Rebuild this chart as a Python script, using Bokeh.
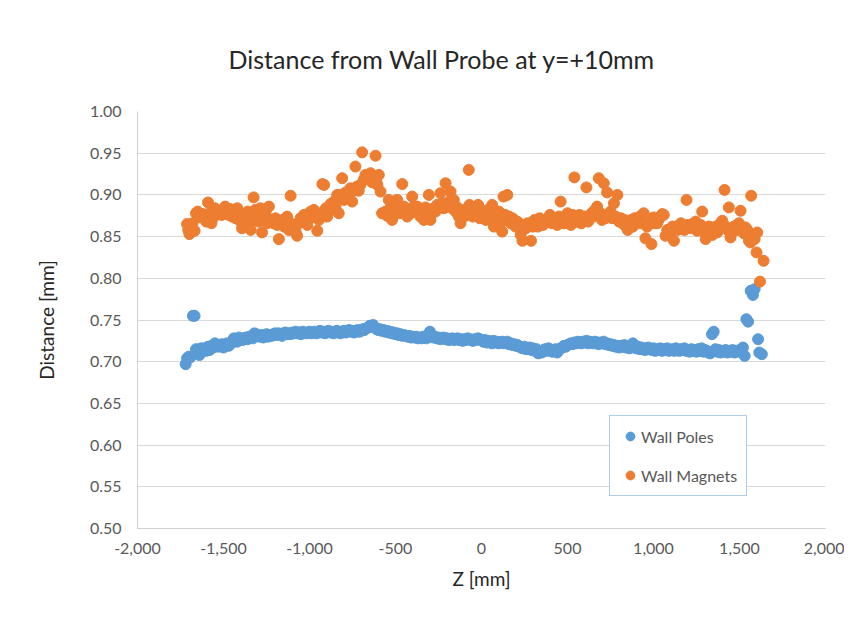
from bokeh.plotting import figure
from bokeh.models import ColumnDataSource, Range1d, FixedTicker, NumeralTickFormatter, Legend, LegendItem
from bokeh.embed import file_html
from bokeh.resources import INLINE

title_text = "Distance from Wall Probe at y=+10mm"
x_label = "Z [mm]"
y_label = "Distance [mm]"
series_names = ["Wall Poles", "Wall Magnets"]
x_ticks = [-2000, -1500, -1000, -500, 0, 500, 1000, 1500, 2000]
y_ticks = [0.50, 0.55, 0.60, 0.65, 0.70, 0.75, 0.80, 0.85, 0.90, 0.95, 1.00]

poles_z = [
    -1720, -1712, -1703, -1694, -1678, -1668, -1660, -1650, -1640, -1630, -1620, -1610, -1600, -1590, -1580,
    -1570, -1560, -1550, -1540, -1530, -1520, -1510, -1500, -1490, -1480, -1470, -1460, -1450, -1440, -1430,
    -1420, -1410, -1400, -1390, -1380, -1370, -1360, -1350, -1340, -1330, -1320, -1310, -1300, -1290, -1280,
    -1270, -1260, -1250, -1240, -1230, -1220, -1210, -1200, -1190, -1180, -1170, -1160, -1150, -1140, -1130,
    -1120, -1110, -1100, -1090, -1080, -1070, -1060, -1050, -1040, -1030, -1020, -1010, -1000, -990, -980,
    -970, -960, -950, -940, -930, -920, -910, -900, -890, -880, -870, -860, -850, -840, -830,
    -820, -810, -800, -790, -780, -770, -760, -750, -740, -730, -720, -710, -700, -690, -680,
    -670, -660, -650, -640, -630, -620, -610, -600, -590, -580, -570, -560, -550, -540, -530,
    -520, -510, -500, -490, -480, -470, -460, -450, -440, -430, -420, -410, -400, -390, -380,
    -370, -360, -350, -340, -330, -320, -310, -300, -290, -280, -270, -260, -250, -240, -230,
    -220, -210, -200, -190, -180, -170, -160, -150, -140, -130, -120, -110, -100, -90, -80,
    -70, -60, -50, -40, -30, -20, -10, 0, 10, 20, 30, 40, 50, 60, 70,
    80, 90, 100, 110, 120, 130, 140, 150, 160, 170, 180, 190, 200, 210, 220,
    230, 240, 250, 260, 270, 280, 290, 300, 310, 320, 330, 340, 350, 360, 370,
    380, 390, 400, 410, 420, 430, 440, 450, 460, 470, 480, 490, 500, 510, 520,
    530, 540, 550, 560, 570, 580, 590, 600, 610, 620, 630, 640, 650, 660, 670,
    680, 690, 700, 710, 720, 730, 740, 750, 760, 770, 780, 790, 800, 810, 820,
    830, 840, 850, 860, 870, 880, 890, 900, 910, 920, 930, 940, 950, 960, 970,
    980, 990, 1000, 1010, 1020, 1030, 1040, 1050, 1060, 1070, 1080, 1090, 1100, 1110, 1120,
    1130, 1140, 1150, 1160, 1170, 1180, 1190, 1200, 1210, 1220, 1230, 1240, 1250, 1260, 1270,
    1280, 1290, 1300, 1310, 1320, 1330, 1340, 1350, 1360, 1370, 1380, 1390, 1400, 1410, 1420,
    1430, 1440, 1450, 1460, 1470, 1480, 1490, 1500, 1510, 1520, 1530, 1540, 1550, 1565, 1578,
    1588, 1608, 1615, 1630,
]
poles_d = [
    0.697, 0.704, 0.706, 0.705, 0.755, 0.755, 0.715, 0.712, 0.708, 0.716, 0.714, 0.716, 0.713, 0.718, 0.714,
    0.719, 0.717, 0.722, 0.720, 0.718, 0.719, 0.721, 0.717, 0.720, 0.722, 0.719, 0.721, 0.723, 0.728, 0.726,
    0.724, 0.729, 0.727, 0.726, 0.728, 0.729, 0.727, 0.730, 0.729, 0.728, 0.734, 0.733, 0.731, 0.730, 0.732,
    0.729, 0.731, 0.733, 0.730, 0.732, 0.731, 0.733, 0.734, 0.732, 0.734, 0.733, 0.731, 0.734, 0.735, 0.733,
    0.734, 0.733, 0.735, 0.734, 0.736, 0.734, 0.735, 0.733, 0.736, 0.735, 0.734, 0.735, 0.736, 0.734, 0.735,
    0.736, 0.734, 0.735, 0.737, 0.735, 0.736, 0.734, 0.736, 0.737, 0.735, 0.736, 0.734, 0.736, 0.737, 0.735,
    0.734, 0.736, 0.737, 0.735, 0.736, 0.738, 0.736, 0.737, 0.735, 0.737, 0.738, 0.736, 0.737, 0.739, 0.738,
    0.740, 0.741, 0.743, 0.742, 0.744, 0.741, 0.739, 0.738, 0.739, 0.737, 0.738, 0.736, 0.737, 0.735, 0.736,
    0.734, 0.735, 0.733, 0.734, 0.732, 0.733, 0.731, 0.732, 0.731, 0.730, 0.731, 0.729, 0.730, 0.729, 0.730,
    0.728, 0.729, 0.728, 0.730, 0.729, 0.728, 0.730, 0.736, 0.731, 0.729, 0.730, 0.728, 0.729, 0.727, 0.728,
    0.729, 0.727, 0.728, 0.726, 0.727, 0.728, 0.726, 0.727, 0.728, 0.726, 0.727, 0.725, 0.727, 0.726, 0.728,
    0.727, 0.726, 0.725, 0.727, 0.726, 0.728, 0.727, 0.726, 0.724, 0.726, 0.723, 0.725, 0.724, 0.722, 0.725,
    0.723, 0.724, 0.722, 0.723, 0.724, 0.722, 0.723, 0.724, 0.721, 0.722, 0.720, 0.721, 0.719, 0.720, 0.718,
    0.717, 0.716, 0.718, 0.715, 0.716, 0.717, 0.714, 0.716, 0.713, 0.715, 0.710, 0.712, 0.711, 0.714, 0.715,
    0.713, 0.716, 0.714, 0.712, 0.713, 0.715, 0.711, 0.714, 0.716, 0.717, 0.719, 0.718, 0.720, 0.721, 0.722,
    0.721, 0.723, 0.722, 0.724, 0.723, 0.722, 0.724, 0.723, 0.725, 0.722, 0.724, 0.723, 0.722, 0.724, 0.723,
    0.721, 0.723, 0.722, 0.724, 0.721, 0.722, 0.720, 0.721, 0.719, 0.720, 0.718, 0.719, 0.717, 0.719, 0.718,
    0.720, 0.717, 0.718, 0.716, 0.718, 0.722, 0.717, 0.716, 0.718, 0.715, 0.717, 0.716, 0.714, 0.716, 0.717,
    0.715, 0.714, 0.716, 0.713, 0.715, 0.714, 0.716, 0.713, 0.715, 0.714, 0.716, 0.713, 0.714, 0.715, 0.713,
    0.716, 0.714, 0.713, 0.715, 0.714, 0.716, 0.713, 0.714, 0.712, 0.715, 0.713, 0.714, 0.712, 0.715, 0.713,
    0.716, 0.712, 0.714, 0.713, 0.711, 0.710, 0.733, 0.736, 0.715, 0.712, 0.714, 0.711, 0.713, 0.712, 0.714,
    0.711, 0.713, 0.712, 0.714, 0.711, 0.713, 0.712, 0.714, 0.712, 0.717, 0.707, 0.751, 0.748, 0.785, 0.780,
    0.787, 0.727, 0.711, 0.709,
]

magnets_z = [
    -1712, -1705, -1698, -1690, -1680, -1668, -1660, -1650, -1640, -1630, -1620, -1612, -1600, -1590, -1582,
    -1570, -1562, -1550, -1540, -1530, -1520, -1510, -1500, -1490, -1480, -1470, -1460, -1450, -1440, -1430,
    -1420, -1410, -1400, -1392, -1380, -1370, -1360, -1350, -1342, -1334, -1325, -1316, -1305, -1295, -1285,
    -1276, -1265, -1255, -1245, -1236, -1227, -1218, -1208, -1198, -1188, -1178, -1168, -1158, -1148, -1138,
    -1130, -1120, -1110, -1100, -1090, -1080, -1072, -1062, -1052, -1042, -1032, -1022, -1013, -1003, -994,
    -984, -975, -965, -955, -945, -935, -925, -915, -905, -897, -888, -878, -868, -858, -849,
    -839, -830, -820, -810, -800, -790, -780, -771, -762, -752, -742, -733, -724, -714, -704,
    -694, -685, -675, -665, -655, -645, -635, -625, -616, -612, -605, -597, -587, -578, -568,
    -558, -549, -539, -530, -520, -510, -500, -490, -480, -470, -461, -451, -441, -432, -422,
    -412, -403, -393, -384, -374, -364, -355, -345, -335, -326, -316, -306, -297, -287, -278,
    -268, -258, -248, -239, -229, -219, -209, -200, -190, -180, -170, -161, -151, -141, -132,
    -122, -112, -103, -93, -84, -74, -70, -60, -50, -40, -30, -20, -10, 3, 13,
    25, 35, 47, 62, 72, 82, 92, 101, 110, 120, 128, 138, 150, 160, 170,
    180, 188, 198, 208, 218, 228, 238, 248, 258, 268, 278, 288, 298, 308, 318,
    328, 338, 348, 358, 368, 378, 388, 398, 410, 420, 430, 440, 450, 460, 470,
    480, 490, 500, 510, 520, 530, 540, 550, 560, 570, 580, 590, 600, 610, 620,
    630, 640, 650, 660, 672, 682, 692, 700, 711, 720, 730, 740, 750, 760, 770,
    780, 790, 800, 810, 820, 830, 840, 850, 860, 870, 880, 890, 900, 910, 920,
    930, 943, 953, 963, 975, 988, 1000, 1010, 1021, 1030, 1040, 1051, 1060, 1070, 1080,
    1089, 1099, 1110, 1119, 1130, 1140, 1150, 1160, 1170, 1180, 1192, 1200, 1210, 1225, 1235,
    1245, 1254, 1265, 1275, 1283, 1293, 1303, 1312, 1322, 1332, 1342, 1352, 1362, 1371, 1380,
    1390, 1400, 1413, 1420, 1430, 1438, 1448, 1458, 1468, 1477, 1487, 1497, 1506, 1515, 1525,
    1535, 1545, 1555, 1564, 1568, 1578, 1588, 1599, 1603, 1619, 1640,
]
magnets_d = [
    0.865, 0.858, 0.853, 0.857, 0.866, 0.857, 0.878, 0.880, 0.874, 0.873, 0.877, 0.875, 0.868, 0.891, 0.878,
    0.866, 0.872, 0.884, 0.879, 0.877, 0.881, 0.876, 0.879, 0.886, 0.880, 0.876, 0.883, 0.874, 0.879, 0.872,
    0.884, 0.877, 0.868, 0.860, 0.876, 0.872, 0.880, 0.862, 0.858, 0.874, 0.897, 0.882, 0.876, 0.868, 0.884,
    0.855, 0.870, 0.879, 0.866, 0.886, 0.870, 0.868, 0.866, 0.872, 0.864, 0.847, 0.866, 0.870, 0.862, 0.868,
    0.874, 0.858, 0.899, 0.865, 0.862, 0.855, 0.851, 0.866, 0.872, 0.870, 0.876, 0.868, 0.864, 0.874, 0.880,
    0.873, 0.882, 0.876, 0.857, 0.870, 0.878, 0.913, 0.912, 0.884, 0.874, 0.880, 0.889, 0.883, 0.892, 0.886,
    0.900, 0.878, 0.900, 0.920, 0.894, 0.903, 0.898, 0.896, 0.908, 0.892, 0.905, 0.934, 0.910, 0.905, 0.912,
    0.951, 0.918, 0.924, 0.920, 0.922, 0.926, 0.915, 0.918, 0.947, 0.916, 0.912, 0.924, 0.904, 0.878, 0.878,
    0.880, 0.875, 0.894, 0.884, 0.870, 0.885, 0.893, 0.894, 0.878, 0.884, 0.913, 0.886, 0.880, 0.874, 0.883,
    0.878, 0.898, 0.886, 0.880, 0.886, 0.878, 0.874, 0.880, 0.870, 0.885, 0.882, 0.900, 0.870, 0.878, 0.884,
    0.880, 0.888, 0.885, 0.902, 0.890, 0.884, 0.914, 0.886, 0.892, 0.904, 0.884, 0.894, 0.880, 0.885, 0.874,
    0.866, 0.878, 0.882, 0.875, 0.880, 0.930, 0.888, 0.884, 0.874, 0.880, 0.878, 0.888, 0.872, 0.878, 0.876,
    0.870, 0.882, 0.874, 0.888, 0.862, 0.872, 0.876, 0.880, 0.866, 0.856, 0.898, 0.876, 0.900, 0.874, 0.866,
    0.872, 0.870, 0.862, 0.868, 0.866, 0.852, 0.845, 0.862, 0.860, 0.866, 0.864, 0.845, 0.862, 0.870, 0.868,
    0.862, 0.872, 0.866, 0.864, 0.870, 0.868, 0.872, 0.876, 0.866, 0.870, 0.868, 0.864, 0.874, 0.892, 0.870,
    0.866, 0.872, 0.878, 0.870, 0.864, 0.876, 0.921, 0.868, 0.872, 0.876, 0.866, 0.870, 0.874, 0.909, 0.868,
    0.872, 0.878, 0.874, 0.882, 0.886, 0.920, 0.878, 0.870, 0.914, 0.872, 0.903, 0.876, 0.880, 0.872, 0.890,
    0.874, 0.900, 0.868, 0.872, 0.866, 0.870, 0.862, 0.858, 0.866, 0.870, 0.862, 0.872, 0.866, 0.870, 0.874,
    0.866, 0.878, 0.848, 0.862, 0.866, 0.841, 0.873, 0.866, 0.866, 0.870, 0.874, 0.877, 0.876, 0.851, 0.858,
    0.858, 0.857, 0.862, 0.845, 0.862, 0.858, 0.860, 0.866, 0.862, 0.858, 0.894, 0.864, 0.860, 0.865, 0.862,
    0.868, 0.857, 0.862, 0.864, 0.880, 0.856, 0.847, 0.856, 0.862, 0.861, 0.852, 0.858, 0.862, 0.855, 0.860,
    0.866, 0.869, 0.906, 0.862, 0.858, 0.885, 0.849, 0.856, 0.862, 0.863, 0.858, 0.866, 0.881, 0.860, 0.854,
    0.861, 0.858, 0.845, 0.843, 0.899, 0.851, 0.847, 0.831, 0.855, 0.796, 0.821,
]

poles_color = "#5B9BD5"
magnets_color = "#ED7D31"
font = "Lato"

p = figure(width=844, height=607, output_backend="svg", toolbar_location=None,
           x_range=Range1d(-2000, 2000), y_range=Range1d(0.5, 1.0),
           min_border_left=137, min_border_right=19, min_border_top=111, min_border_bottom=79)
p.outline_line_color = None
p.background_fill_color = "white"
p.border_fill_color = "white"

p.title.text = title_text
p.title.text_font = font
p.title.text_font_size = "25px"
p.title.text_font_style = "normal"
p.title.text_color = "#262626"
p.title.align = "left"
p.title.offset = 91
p.title.standoff = 76

src_p = ColumnDataSource(dict(z=poles_z, d=poles_d))
src_m = ColumnDataSource(dict(z=magnets_z, d=magnets_d))
r_p = p.scatter("z", "d", source=src_p, size=11, marker="circle", fill_color=poles_color, line_color=poles_color)
r_m = p.scatter("z", "d", source=src_m, size=11, marker="circle", fill_color=magnets_color, line_color=magnets_color)

p.xaxis.ticker = FixedTicker(ticks=x_ticks)
p.yaxis.ticker = FixedTicker(ticks=y_ticks)
p.xaxis.formatter = NumeralTickFormatter(format="0,0")
p.yaxis.formatter = NumeralTickFormatter(format="0.00")
for ax in (p.xaxis[0], p.yaxis[0]):
    ax.axis_line_color = "#d0d0d0"
    ax.major_tick_line_color = None
    ax.minor_tick_line_color = None
    ax.major_label_text_font = font
    ax.major_label_text_font_size = "16px"
    ax.major_label_text_color = "#595959"
    ax.axis_label_text_font = font
    ax.axis_label_text_font_size = "19px"
    ax.axis_label_text_font_style = "normal"
    ax.axis_label_text_color = "#262626"
p.xaxis.axis_label = x_label
p.yaxis.axis_label = y_label
p.xaxis.major_label_standoff = 8
p.yaxis.major_label_standoff = 10
p.xaxis.axis_label_standoff = 10
p.yaxis.axis_label_standoff = 29

p.xgrid.visible = False
p.ygrid.grid_line_color = "#d9d9d9"
p.ygrid.grid_line_width = 1

legend = Legend(items=[LegendItem(label=series_names[0], renderers=[r_p]),
                       LegendItem(label=series_names[1], renderers=[r_m])],
                location=(472, 32))
legend.border_line_color = poles_color
legend.border_line_width = 1
legend.label_text_font = font
legend.label_text_font_size = "16px"
legend.label_text_color = "#595959"
legend.glyph_width = 22
legend.glyph_height = 22
legend.spacing = 17
legend.padding = 9
legend.margin = 0
legend.label_standoff = 0
legend.background_fill_alpha = 1
p.add_layout(legend, "center")

open("out.html", "w").write(file_html(p, INLINE))
